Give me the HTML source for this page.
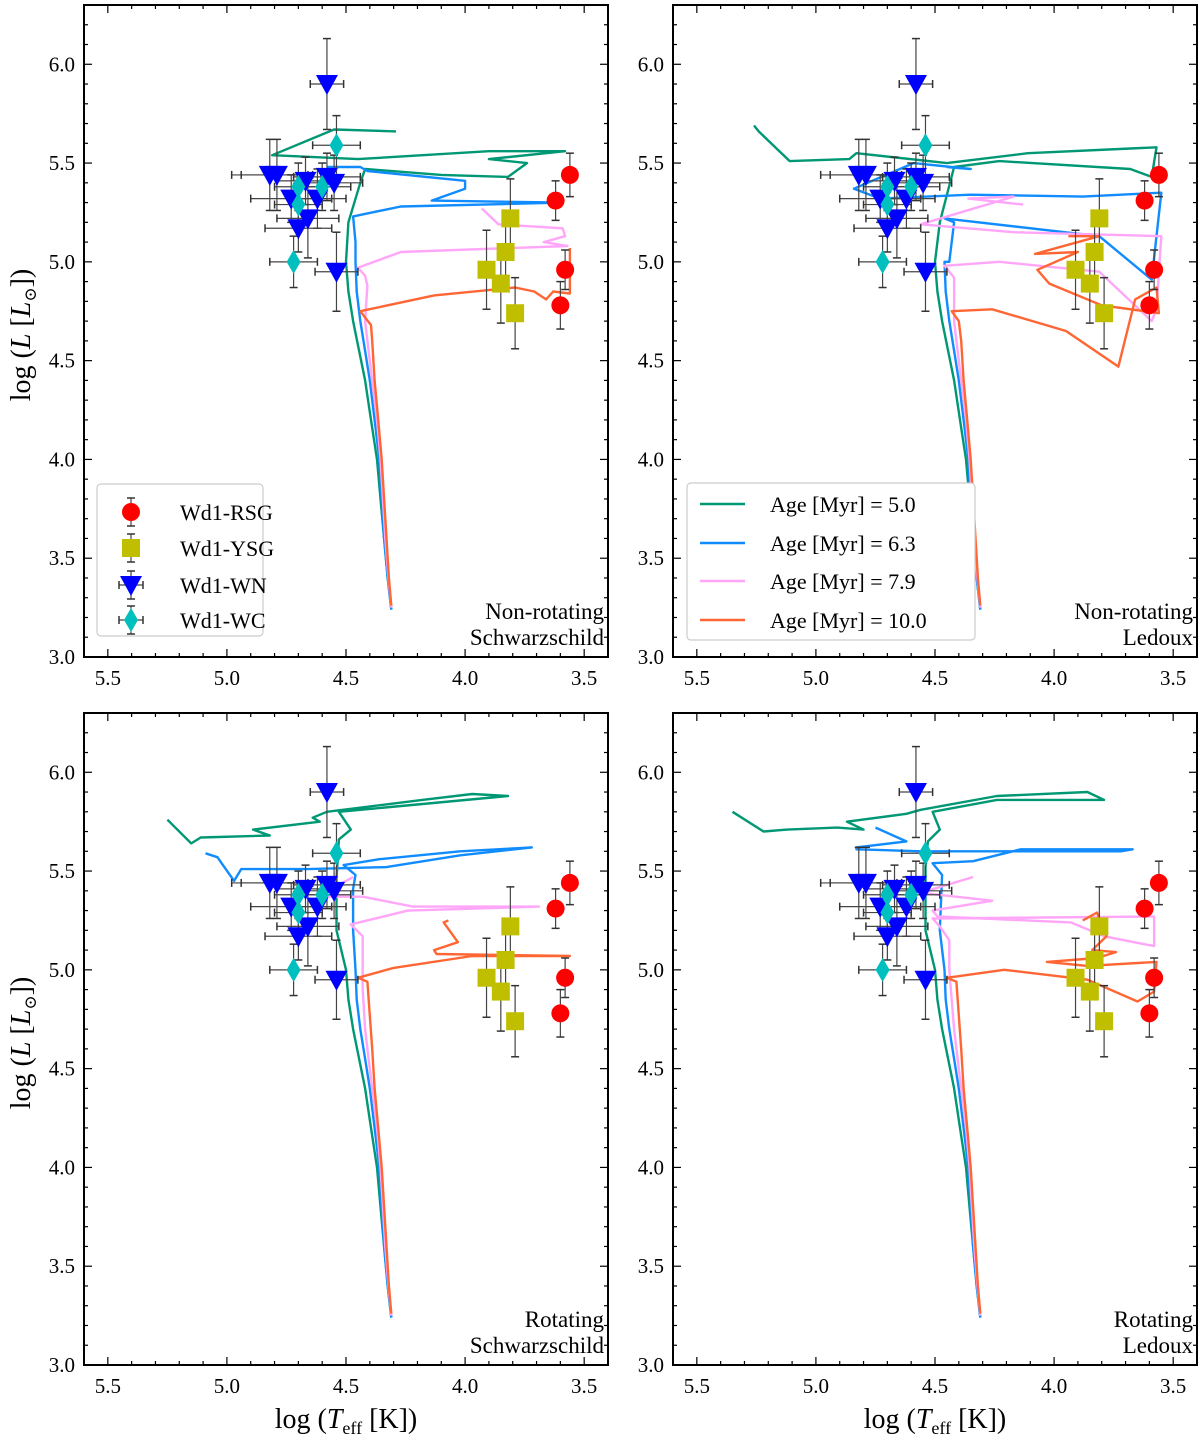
<!DOCTYPE html>
<html><head><meta charset="utf-8"><style>
html,body{margin:0;padding:0;background:#fff;}
svg{display:block;font-family:"Liberation Serif","DejaVu Serif",serif;}
</style></head><body>
<svg id="fig" width="1200" height="1440" viewBox="0 0 1200 1440" xmlns="http://www.w3.org/2000/svg"></svg>
<script>
// ---- observational data ----
const rsgT=[3.62,3.56,3.58,3.60];
const rsgL=[5.31,5.44,4.96,4.78];
const rsgYerr=[0.10,0.11,0.10,0.12];
const ysgT=[3.81,3.83,3.91,3.85,3.79];
const ysgL=[5.22,5.05,4.96,4.89,4.74];
const ysgYerr=[0.2,0.2,0.2,0.2,0.18];
const wnT=[4.58,4.82,4.79,4.67,4.58,4.55,4.73,4.62,4.66,4.70,4.54];
const wnL=[5.90,5.44,5.44,5.41,5.43,5.40,5.32,5.32,5.22,5.17,4.95];
const wnXerr=[0.07,0.16,0.15,0.12,0.14,0.12,0.17,0.12,0.13,0.14,0.09];
const wnYerr=[0.23,0.18,0.18,0.12,0.12,0.14,0.12,0.15,0.2,0.12,0.2];
const wcT=[4.54,4.70,4.60,4.70,4.72];
const wcL=[5.59,5.38,5.38,5.29,5.00];
const wcXerr=[0.10,0.10,0.12,0.10,0.10];
const wcYerr=[0.15,0.12,0.12,0.10,0.13];
// ---- tick labels ----
const xTicks=[5.5,5.0,4.5,4.0,3.5];
const yTicks=[3.0,3.5,4.0,4.5,5.0,5.5,6.0];
// ---- track bases ----
const gBase=[[4.31,3.24],[4.325,3.4],[4.34,3.6],[4.355,3.8],[4.37,4.0],[4.395,4.2],[4.42,4.4],[4.445,4.55],[4.47,4.7],[4.49,4.85],[4.50,5.0]];
const bBase=[[4.31,3.24],[4.325,3.4],[4.34,3.6],[4.35,3.8],[4.36,4.0],[4.38,4.2],[4.40,4.4],[4.42,4.55],[4.44,4.7],[4.455,4.85],[4.46,5.0]];
const pBase=[[4.31,3.25],[4.322,3.4],[4.335,3.6],[4.345,3.8],[4.355,4.0],[4.37,4.2],[4.39,4.4],[4.405,4.55],[4.42,4.7]];
const oBase=[[4.31,3.26],[4.32,3.4],[4.33,3.6],[4.34,3.8],[4.35,4.0],[4.365,4.2],[4.38,4.4],[4.39,4.6]];
// panel 1
const p1G=[[4.49,5.2],[4.44,5.4],[4.42,5.47],[4.1,5.44],[3.82,5.43],[3.74,5.50],[3.9,5.52],[3.58,5.56],[3.9,5.56],[4.45,5.52],[4.81,5.54],[4.55,5.67],[4.29,5.66]];
const p1B=[[4.46,5.1],[4.47,5.23],[4.27,5.28],[3.59,5.30],[4.14,5.31],[4.0,5.37],[4.0,5.41],[4.41,5.46],[4.44,5.48],[4.58,5.48]];
const p1P=[[4.41,4.88],[4.42,4.93],[4.45,4.97],[4.27,5.05],[3.57,5.08],[3.67,5.10],[3.58,5.13],[3.59,5.17],[3.86,5.19],[3.93,5.27]];
const p1O=[[4.395,4.68],[4.44,4.75],[4.13,4.83],[3.79,4.87],[3.71,4.85],[3.66,4.81],[3.63,4.85],[3.56,4.84],[3.56,5.07]];
// panel 2
const p2G=[[4.48,5.2],[4.42,5.48],[4.23,5.51],[3.68,5.47],[3.59,5.43],[3.57,5.58],[4.11,5.55],[4.45,5.50],[4.83,5.55],[4.86,5.52],[5.11,5.51],[5.24,5.66],[5.26,5.69]];
const p2B=[[4.44,5.0],[4.42,5.20],[4.46,5.22],[3.81,5.13],[3.59,4.91],[3.55,5.35],[3.88,5.33],[4.35,5.34],[4.73,5.32],[4.84,5.37],[4.59,5.50],[4.35,5.47],[4.45,5.48]];
const p2P=[[4.42,4.92],[4.46,4.98],[4.23,5.0],[3.81,4.95],[3.59,4.70],[3.57,4.76],[3.55,5.13],[4.17,5.15],[4.56,5.19],[4.17,5.33],[4.36,5.32],[4.13,5.29]];
const p2O=[[4.40,4.70],[4.43,4.75],[4.26,4.76],[3.95,4.65],[3.73,4.47],[3.66,4.81],[3.57,4.87],[3.56,4.74],[3.80,4.78],[4.02,4.89],[4.07,4.96],[3.90,5.05],[4.08,5.04],[3.81,5.13],[3.94,5.13]];
// panel 3
const p3G=[[4.54,5.2],[4.54,5.46],[4.53,5.66],[4.48,5.71],[4.53,5.80],[3.82,5.88],[3.97,5.89],[4.18,5.86],[4.58,5.80],[4.64,5.77],[4.61,5.75],[4.89,5.71],[4.82,5.68],[5.11,5.67],[5.15,5.64],[5.25,5.76]];
const p3B=[[4.47,5.2],[4.47,5.41],[4.46,5.48],[4.51,5.53],[4.36,5.56],[4.02,5.60],[3.72,5.62],[4.02,5.58],[4.33,5.52],[4.66,5.51],[4.94,5.51],[4.97,5.45],[5.04,5.57],[5.09,5.59]];
const p3P=[[4.43,4.9],[4.43,5.17],[4.48,5.23],[4.24,5.30],[3.69,5.32],[4.22,5.32],[4.43,5.37],[4.62,5.37],[4.47,5.47]];
const p3O=[[4.41,4.94],[4.45,4.96],[4.30,5.01],[3.97,5.07],[3.56,5.07],[4.12,5.08],[4.13,5.10],[4.03,5.14],[4.09,5.24],[4.07,5.25]];
// panel 4
const p4G=[[4.54,5.2],[4.54,5.52],[4.53,5.65],[4.48,5.71],[4.51,5.80],[4.24,5.86],[3.79,5.86],[3.86,5.90],[4.24,5.88],[4.56,5.81],[4.62,5.79],[4.87,5.75],[4.80,5.71],[4.91,5.72],[5.12,5.71],[5.22,5.70],[5.35,5.80]];
const p4B=[[4.48,5.2],[4.47,5.48],[4.51,5.54],[4.34,5.55],[4.14,5.61],[3.67,5.61],[3.72,5.60],[4.56,5.60],[4.83,5.61],[4.83,5.62],[4.62,5.65],[4.75,5.72]];
const p4P=[[4.44,5.0],[4.44,5.15],[4.48,5.22],[4.51,5.26],[3.58,5.27],[3.58,5.12],[3.79,5.17],[3.93,5.24],[4.49,5.27],[4.51,5.30],[4.26,5.35],[4.56,5.39],[4.34,5.47]];
const p4O=[[4.41,4.94],[4.45,4.96],[4.21,5.00],[3.86,4.95],[3.65,4.84],[3.58,4.89],[3.57,5.04],[3.86,5.02],[4.03,5.04],[3.82,5.06],[3.74,5.09],[3.84,5.10],[3.78,5.17],[3.82,5.29],[3.88,5.25]];
const ageLabels=["5.0","6.3","7.9","10.0"];

const NS="http://www.w3.org/2000/svg";
const svg=document.getElementById('fig');
const COL={g:'#009874',b:'#118cff',p:'#ffa6f9',o:'#ff6633'};
const panels=[
 {x0:84,y0:5,tracks:[p1G,p1B,p1P,p1O],t1:'Non-rotating',t2:'Schwarzschild',name:'nonrot-schwarzschild'},
 {x0:673,y0:5,tracks:[p2G,p2B,p2P,p2O],t1:'Non-rotating',t2:'Ledoux',name:'nonrot-ledoux'},
 {x0:84,y0:713,tracks:[p3G,p3B,p3P,p3O],t1:'Rotating',t2:'Schwarzschild',name:'rot-schwarzschild'},
 {x0:673,y0:713,tracks:[p4G,p4B,p4P,p4O],t1:'Rotating',t2:'Ledoux',name:'rot-ledoux'}];
const W=524,H=652,XMIN=5.6,XMAX=3.4,YMIN=3.0,YMAX=6.3;
function mk(tag,attrs,parent){const e=document.createElementNS(NS,tag);for(const k in attrs)e.setAttribute(k,attrs[k]);(parent||svg).appendChild(e);return e;}

panels.forEach((P,pi)=>{
 const sx=t=>P.x0+(XMIN-t)/(XMIN-XMAX)*W;
 const sy=l=>P.y0+H-(l-YMIN)/(YMAX-YMIN)*H;
 const g=mk('g',{});
 
 
 const cid='clip'+pi;
 const cp=mk('clipPath',{id:cid},g);mk('rect',{x:P.x0,y:P.y0,width:W,height:H},cp);
 const bases=[gBase,bBase,pBase,oBase];const cols=[COL.g,COL.b,COL.p,COL.o];
 P.tracks.forEach((tr,i)=>{
  const pts=bases[i].concat(tr);
  const pl=mk('polyline',{points:pts.map(p=>sx(p[0]).toFixed(1)+','+sy(p[1]).toFixed(1)).join(' '),fill:'none',stroke:cols[i],'stroke-width':2.4,'stroke-linejoin':'round','clip-path':'url(#'+cid+')'},g);
  
  
 });
 function eb(T,L,xe,ye){
  const x=sx(T),y=sy(L);
  if(ye){mk('line',{x1:x,y1:sy(L-ye),x2:x,y2:sy(L+ye),stroke:'#444','stroke-width':1.2},g);
   [L-ye,L+ye].forEach(v=>mk('line',{x1:x-4,y1:sy(v),x2:x+4,y2:sy(v),stroke:'#333','stroke-width':1.5},g));}
  if(xe){mk('line',{x1:sx(T-xe),y1:y,x2:sx(T+xe),y2:y,stroke:'#444','stroke-width':1.2},g);
   [T-xe,T+xe].forEach(v=>mk('line',{x1:sx(v),y1:y-4,x2:sx(v),y2:y+4,stroke:'#333','stroke-width':1.5},g));}
 }
 rsgT.forEach((t,i)=>eb(t,rsgL[i],0.01,rsgYerr[i]));
 ysgT.forEach((t,i)=>eb(t,ysgL[i],0,ysgYerr[i]));
 wnT.forEach((t,i)=>eb(t,wnL[i],wnXerr[i],wnYerr[i]));
 wcT.forEach((t,i)=>eb(t,wcL[i],wcXerr[i],wcYerr[i]));
 rsgT.forEach((t,i)=>{const m=mk('circle',{cx:sx(t),cy:sy(rsgL[i]),r:9,fill:'#ff0000'},g);
  });
 ysgT.forEach((t,i)=>{const m=mk('rect',{x:sx(t)-9,y:sy(ysgL[i])-9,width:18,height:18,fill:'#bfbf00'},g);
  });
 wnT.forEach((t,i)=>{const x=sx(t),y=sy(wnL[i]);const m=mk('polygon',{points:`${x-11},${y-9} ${x+11},${y-9} ${x},${y+11}`,fill:'#0000ff'},g);
  });
 wcT.forEach((t,i)=>{const x=sx(t),y=sy(wcL[i]);const m=mk('polygon',{points:`${x},${y-12} ${x+7},${y} ${x},${y+12} ${x-7},${y}`,fill:'#00bfbf'},g);
  });
 const fr=mk('rect',{x:P.x0,y:P.y0,width:W,height:H,fill:'none',stroke:'#000','stroke-width':2},g);
 
 for(let k=34;k<=56;k++){const t=k/10;const x=sx(t);const len=(k%5===0)?8:4;
  mk('line',{x1:x,y1:P.y0+H,x2:x,y2:P.y0+H-len,stroke:'#000','stroke-width':1.2},g);
  mk('line',{x1:x,y1:P.y0,x2:x,y2:P.y0+len,stroke:'#000','stroke-width':1.2},g);}
 for(let k=30;k<=63;k++){const l=k/10;const y=sy(l);const len=(k%5===0)?8:4;
  mk('line',{x1:P.x0,y1:y,x2:P.x0+len,y2:y,stroke:'#000','stroke-width':1.2},g);
  mk('line',{x1:P.x0+W,y1:y,x2:P.x0+W-len,y2:y,stroke:'#000','stroke-width':1.2},g);}
 xTicks.forEach(t=>{const tx=mk('text',{x:sx(t),y:P.y0+H+28,'text-anchor':'middle','font-size':21},g);tx.textContent=t.toFixed(1);
  });
 yTicks.forEach(l=>{const tx=mk('text',{x:P.x0-9,y:sy(l)+7,'text-anchor':'end','font-size':21},g);tx.textContent=l.toFixed(1);
  });
 const a1=mk('text',{x:P.x0+W-4,y:P.y0+H-38,'text-anchor':'end','font-size':23},g);a1.textContent=P.t1;
 
 const a2=mk('text',{x:P.x0+W-4,y:P.y0+H-12,'text-anchor':'end','font-size':23},g);a2.textContent=P.t2;
 
 if(pi%2===0){const yt=mk('text',{x:0,y:0,'font-size':28,'text-anchor':'middle',transform:`translate(30,${P.y0+330}) rotate(-90)`},g);
  yt.innerHTML='log (<tspan font-style="italic">L</tspan> [<tspan font-style="italic">L</tspan><tspan font-size="17" dy="6">⊙</tspan><tspan dy="-6">])</tspan>';
  }
 if(pi>=2){const xt=mk('text',{x:P.x0+262,y:1428,'font-size':28,'text-anchor':'middle'},g);
  xt.innerHTML='log (<tspan font-style="italic">T</tspan><tspan font-size="18" dy="6">eff</tspan><tspan dy="-6"> [K])</tspan>';
  }
});
(function(){
 const g=mk('g',{});
 mk('rect',{x:97,y:484,width:166,height:152,rx:4,fill:'#fff',stroke:'#ccc','stroke-width':1.2},g);
 const names=['Wd1-RSG','Wd1-YSG','Wd1-WN','Wd1-WC'];const ys=[512,548,585,620];
 ys.forEach((y,i)=>{const x=131;
  mk('line',{x1:x,y1:y-14,x2:x,y2:y+14,stroke:'#444','stroke-width':1.2},g);
  mk('line',{x1:x-4,y1:y-14,x2:x+4,y2:y-14,stroke:'#333','stroke-width':1.5},g);
  mk('line',{x1:x-4,y1:y+14,x2:x+4,y2:y+14,stroke:'#333','stroke-width':1.5},g);
  if(i>=2){mk('line',{x1:x-12,y1:y,x2:x+12,y2:y,stroke:'#444','stroke-width':1.2},g);
   mk('line',{x1:x-12,y1:y-4,x2:x-12,y2:y+4,stroke:'#333','stroke-width':1.5},g);mk('line',{x1:x+12,y1:y-4,x2:x+12,y2:y+4,stroke:'#333','stroke-width':1.5},g);}
  if(i===0)mk('circle',{cx:x,cy:y,r:9,fill:'#ff0000'},g);
  if(i===1)mk('rect',{x:x-9,y:y-9,width:18,height:18,fill:'#bfbf00'},g);
  if(i===2)mk('polygon',{points:`${x-11},${y-9} ${x+11},${y-9} ${x},${y+11}`,fill:'#0000ff'},g);
  if(i===3)mk('polygon',{points:`${x},${y-12} ${x+7},${y} ${x},${y+12} ${x-7},${y}`,fill:'#00bfbf'},g);
  const t=mk('text',{x:180,y:y+8,'font-size':22},g);t.textContent=names[i];
  });
})();
(function(){
 const g=mk('g',{});
 mk('rect',{x:687,y:483,width:288,height:157,rx:4,fill:'#fff',stroke:'#ccc','stroke-width':1.2},g);
 const cols=[COL.g,COL.b,COL.p,COL.o];const ys=[504,543,581,620];
 ys.forEach((y,i)=>{mk('line',{x1:700,y1:y,x2:745,y2:y,stroke:cols[i],'stroke-width':2.4},g);
  const t=mk('text',{x:770,y:y+8,'font-size':22},g);t.textContent='Age [Myr] = '+ageLabels[i];
  });
})();
</script>
</body></html>
